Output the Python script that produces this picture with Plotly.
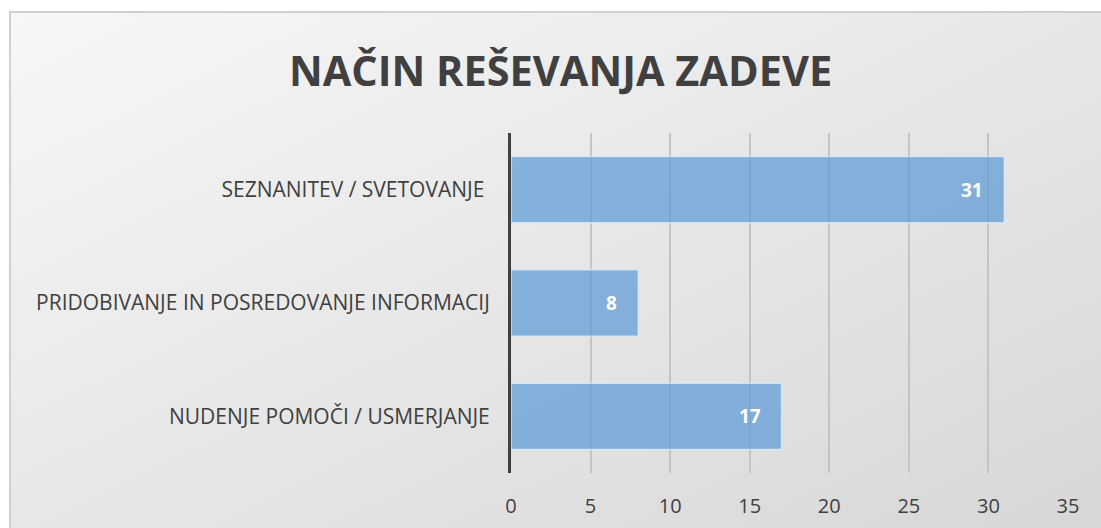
import base64
import plotly.graph_objects as go

categories = ["SEZNANITEV / SVETOVANJE\u00a0", "PRIDOBIVANJE IN POSREDOVANJE INFORMACIJ", "NUDENJE POMOČI / USMERJANJE"]
values = [31, 8, 17]
x_ticks = [0, 5, 10, 15, 20, 25, 30, 35]
title_text = "NAČIN REŠEVANJA ZADEVE"

W, H = 1101, 528
L, R, T, B = 511, 1068, 133, 473  # plot area pixels
pw, ph = R - L, B - T

def px(x):
    return (x - L) / pw

def py(y):
    return (B - y) / ph

svg = f'''<svg xmlns="http://www.w3.org/2000/svg" width="{W}" height="{H}">
<defs><linearGradient id="g" x1="0" y1="0" x2="1" y2="1">
<stop offset="0" stop-color="#f7f7f7"/><stop offset="1" stop-color="#d6d6d6"/>
</linearGradient></defs>
<rect width="{W}" height="{H}" fill="url(#g)"/></svg>'''
src = "data:image/svg+xml;base64," + base64.b64encode(svg.encode()).decode()

fig = go.Figure()
fig.add_trace(go.Bar(
    x=values, y=categories, orientation="h",
    marker=dict(color="rgba(91,155,213,0.72)", line=dict(color="rgba(220,235,250,0.8)", width=1.5)),
    width=0.585, hoverinfo="skip",
))
for c, v in zip(categories, values):
    fig.add_annotation(x=v, y=c, xref="x", yref="y", text=f"<b>{v}</b>", showarrow=False,
                       xanchor="right", xshift=-19, font=dict(color="white", size=19, family="Open Sans"))

fig.add_layout_image(dict(source=src, xref="paper", yref="paper", x=px(10), y=py(12),
                          sizex=(W + 20 - 10) / pw, sizey=(H + 20 - 12) / ph,
                          xanchor="left", yanchor="top", sizing="stretch", layer="below"))
fig.add_shape(type="rect", xref="paper", yref="paper", x0=px(10), y0=py(H + 20), x1=px(W + 20), y1=py(12),
              line=dict(color="#d0d0d0", width=2), fillcolor="rgba(0,0,0,0)", layer="below")

fig.add_annotation(text=title_text, xref="paper", yref="paper", x=px(560), y=py(70),
                   xanchor="center", yanchor="middle", showarrow=False,
                   font=dict(family="Open Sans", size=41.5, color="#404040", weight="bold"))

fig.update_layout(
    width=W, height=H,
    margin=dict(l=L, r=W - R, t=T, b=H - B, pad=0, autoexpand=False),
    paper_bgcolor="white", plot_bgcolor="rgba(0,0,0,0)",
    showlegend=False, bargap=0.4,
    font=dict(family="Open Sans", color="#404040"),
)
fig.update_xaxes(range=[0, 35], tickvals=x_ticks, showgrid=True, gridcolor="#c4c4c4", gridwidth=1.5,
                 zeroline=False, showline=False, ticks="", tickfont=dict(size=20, color="#404040"),
                 ticklabelstandoff=19, automargin=False, fixedrange=True)
fig.update_yaxes(autorange="reversed", showline=True, linecolor="#404040", linewidth=3,
                 showgrid=False, ticks="", tickfont=dict(size=21, color="#404040"),
                 ticklabelstandoff=14, automargin=False, fixedrange=True)

fig.write_html("out.html", config={"displayModeBar": False},
               post_script="document.body.style.margin='0';document.body.style.overflow='hidden';")
